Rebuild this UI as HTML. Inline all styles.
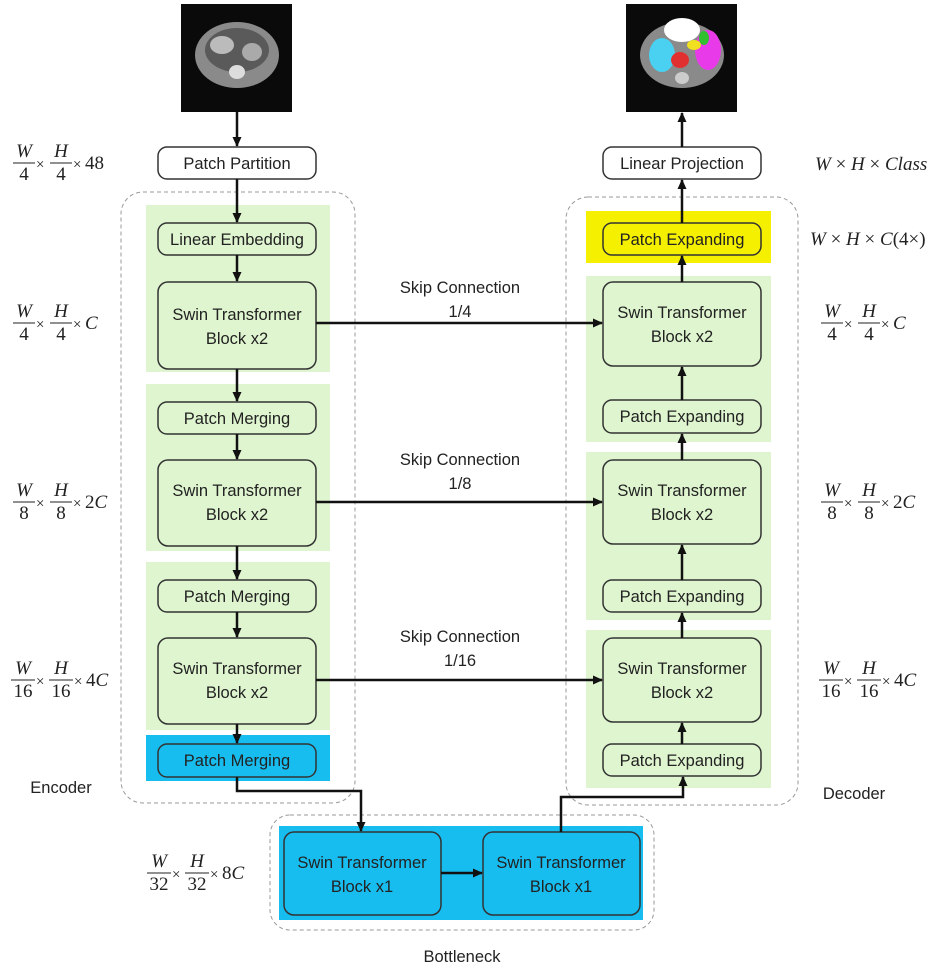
<!DOCTYPE html>
<html><head><meta charset="utf-8"><style>
body{margin:0;background:#fff}
svg{display:block}
.b{font-family:"Liberation Sans",sans-serif;font-size:16.5px;fill:#222;text-anchor:middle}
.m{font-family:"Liberation Serif",serif;font-size:19px;fill:#222}
.i{font-style:italic}
</style></head><body>
<svg width="933" height="966" viewBox="0 0 933 966" xmlns="http://www.w3.org/2000/svg">
<defs>
<marker id="a" markerWidth="10" markerHeight="10" refX="9" refY="5" orient="auto" markerUnits="userSpaceOnUse"><path d="M0,0.5 L10,5 L0,9.5 z" fill="#111"/></marker>
</defs>

<!-- CT images -->
<rect x="181" y="4" width="111" height="108" fill="#0a0a0a"/>
<ellipse cx="237" cy="55" rx="42" ry="33" fill="#8a8a8a"/>
<ellipse cx="237" cy="50" rx="32" ry="22" fill="#5a5a5a"/>
<ellipse cx="222" cy="45" rx="12" ry="9" fill="#bbb"/>
<ellipse cx="252" cy="52" rx="10" ry="9" fill="#aaa"/>
<ellipse cx="237" cy="72" rx="8" ry="7" fill="#ddd"/>
<rect x="626" y="4" width="111" height="108" fill="#0a0a0a"/>
<ellipse cx="682" cy="55" rx="42" ry="33" fill="#8a8a8a"/>
<ellipse cx="682" cy="30" rx="18" ry="12" fill="#fff"/>
<ellipse cx="662" cy="55" rx="13" ry="17" fill="#4ad0f0"/>
<ellipse cx="708" cy="50" rx="13" ry="20" fill="#e83ae8"/>
<ellipse cx="680" cy="60" rx="9" ry="8" fill="#e03030"/>
<ellipse cx="694" cy="45" rx="7" ry="5" fill="#f0e020"/>
<ellipse cx="704" cy="38" rx="5" ry="7" fill="#30c030"/>
<ellipse cx="682" cy="78" rx="7" ry="6" fill="#ccc"/>

<!-- dashed containers -->
<rect x="121" y="192" width="234" height="611" rx="22" fill="none" stroke="#999" stroke-dasharray="4,3"/>
<rect x="566" y="197" width="232" height="608" rx="22" fill="none" stroke="#999" stroke-dasharray="4,3"/>
<rect x="270" y="815" width="384" height="115" rx="20" fill="none" stroke="#999" stroke-dasharray="4,3"/>

<!-- panels -->
<g fill="#dff5cf">
<rect x="146" y="205" width="184" height="167"/>
<rect x="146" y="384" width="184" height="167"/>
<rect x="146" y="562" width="184" height="168"/>
<rect x="586" y="276" width="185" height="166"/>
<rect x="586" y="452" width="185" height="168"/>
<rect x="586" y="630" width="185" height="158"/>
</g>
<rect x="146" y="735" width="184" height="46" fill="#18bdf0"/>
<rect x="586" y="211" width="185" height="52" fill="#f5f000"/>
<rect x="279" y="826" width="364" height="94" fill="#18bdf0"/>

<!-- boxes -->
<g stroke="#333" stroke-width="1.5">
<rect x="158" y="147" width="158" height="32" rx="9" fill="#fff"/>
<rect x="603" y="147" width="158" height="32" rx="9" fill="#fff"/>
<g fill="#dff5cf">
<rect x="158" y="223" width="158" height="32" rx="9"/>
<rect x="158" y="282" width="158" height="87" rx="10"/>
<rect x="158" y="402" width="158" height="32" rx="9"/>
<rect x="158" y="460" width="158" height="86" rx="10"/>
<rect x="158" y="580" width="158" height="32" rx="9"/>
<rect x="158" y="638" width="158" height="86" rx="10"/>
<rect x="603" y="282" width="158" height="84" rx="10"/>
<rect x="603" y="400" width="158" height="33" rx="9"/>
<rect x="603" y="460" width="158" height="84" rx="10"/>
<rect x="603" y="580" width="158" height="32" rx="9"/>
<rect x="603" y="638" width="158" height="84" rx="10"/>
<rect x="603" y="744" width="158" height="32" rx="9"/>
</g>
<rect x="603" y="223" width="158" height="32" rx="9" fill="#f5f000"/>
<rect x="158" y="744" width="158" height="33" rx="9" fill="#18bdf0"/>
<rect x="284" y="832" width="157" height="83" rx="10" fill="#18bdf0"/>
<rect x="483" y="832" width="157" height="83" rx="10" fill="#18bdf0"/>
</g>

<!-- labels -->
<g class="b">
<text x="237" y="169">Patch Partition</text>
<text x="682" y="169">Linear Projection</text>
<text x="237" y="245">Linear Embedding</text>
<text x="237" y="320">Swin Transformer</text><text x="237" y="344">Block x2</text>
<text x="237" y="424">Patch Merging</text>
<text x="237" y="496">Swin Transformer</text><text x="237" y="520">Block x2</text>
<text x="237" y="602">Patch Merging</text>
<text x="237" y="674">Swin Transformer</text><text x="237" y="698">Block x2</text>
<text x="237" y="766">Patch Merging</text>
<text x="682" y="245">Patch Expanding</text>
<text x="682" y="318">Swin Transformer</text><text x="682" y="342">Block x2</text>
<text x="682" y="422">Patch Expanding</text>
<text x="682" y="496">Swin Transformer</text><text x="682" y="520">Block x2</text>
<text x="682" y="602">Patch Expanding</text>
<text x="682" y="674">Swin Transformer</text><text x="682" y="698">Block x2</text>
<text x="682" y="766">Patch Expanding</text>
<text x="362" y="868">Swin Transformer</text><text x="362" y="892">Block x1</text>
<text x="561" y="868">Swin Transformer</text><text x="561" y="892">Block x1</text>
<text x="460" y="293">Skip Connection</text><text x="460" y="317">1/4</text>
<text x="460" y="465">Skip Connection</text><text x="460" y="489">1/8</text>
<text x="460" y="642">Skip Connection</text><text x="460" y="666">1/16</text>
<text x="61" y="793">Encoder</text>
<text x="854" y="799">Decoder</text>
<text x="462" y="962">Bottleneck</text>
</g>

<!-- arrows -->
<g stroke="#111" stroke-width="2.5" fill="none" marker-end="url(#a)">
<line x1="237" y1="112" x2="237" y2="146"/>
<line x1="237" y1="179" x2="237" y2="222"/>
<line x1="237" y1="255" x2="237" y2="281"/>
<line x1="237" y1="369" x2="237" y2="401"/>
<line x1="237" y1="434" x2="237" y2="459"/>
<line x1="237" y1="546" x2="237" y2="579"/>
<line x1="237" y1="612" x2="237" y2="637"/>
<line x1="237" y1="724" x2="237" y2="743"/>
<line x1="682" y1="147" x2="682" y2="113"/>
<line x1="682" y1="223" x2="682" y2="180"/>
<line x1="682" y1="282" x2="682" y2="256"/>
<line x1="682" y1="400" x2="682" y2="367"/>
<line x1="682" y1="460" x2="682" y2="434"/>
<line x1="682" y1="580" x2="682" y2="545"/>
<line x1="682" y1="638" x2="682" y2="613"/>
<line x1="682" y1="744" x2="682" y2="723"/>
<line x1="316" y1="323" x2="602" y2="323"/>
<line x1="316" y1="502" x2="602" y2="502"/>
<line x1="316" y1="680" x2="602" y2="680"/>
<polyline points="237,777 237,791 361,791 361,831"/>
<polyline points="561,832 561,797 683,797 683,777"/>
<line x1="441" y1="873" x2="482" y2="873"/>
</g>

<!-- formulas -->
<g class="m">
<g transform="translate(13,163)">
<text x="11" y="-6" class="i" text-anchor="middle">W</text><line x1="0" y1="0" x2="22" y2="0" stroke="#222"/><text x="11" y="17" text-anchor="middle">4</text>
<text x="23" y="6" font-size="15">×</text>
<text x="48" y="-6" class="i" text-anchor="middle">H</text><line x1="37" y1="0" x2="59" y2="0" stroke="#222"/><text x="48" y="17" text-anchor="middle">4</text>
<text x="60" y="6" font-size="15">×</text><text x="72" y="6">48</text>
</g>
<g transform="translate(13,323)">
<text x="11" y="-6" class="i" text-anchor="middle">W</text><line x1="0" y1="0" x2="22" y2="0" stroke="#222"/><text x="11" y="17" text-anchor="middle">4</text>
<text x="23" y="6" font-size="15">×</text>
<text x="48" y="-6" class="i" text-anchor="middle">H</text><line x1="37" y1="0" x2="59" y2="0" stroke="#222"/><text x="48" y="17" text-anchor="middle">4</text>
<text x="60" y="6" font-size="15">×</text><text x="72" y="6" class="i">C</text>
</g>
<g transform="translate(13,502)">
<text x="11" y="-6" class="i" text-anchor="middle">W</text><line x1="0" y1="0" x2="22" y2="0" stroke="#222"/><text x="11" y="17" text-anchor="middle">8</text>
<text x="23" y="6" font-size="15">×</text>
<text x="48" y="-6" class="i" text-anchor="middle">H</text><line x1="37" y1="0" x2="59" y2="0" stroke="#222"/><text x="48" y="17" text-anchor="middle">8</text>
<text x="60" y="6" font-size="15">×</text><text x="72" y="6">2<tspan class="i">C</tspan></text>
</g>
<g transform="translate(11,680)">
<text x="12" y="-6" class="i" text-anchor="middle">W</text><line x1="0" y1="0" x2="24" y2="0" stroke="#222"/><text x="12" y="17" text-anchor="middle">16</text>
<text x="25" y="6" font-size="15">×</text>
<text x="50" y="-6" class="i" text-anchor="middle">H</text><line x1="38" y1="0" x2="62" y2="0" stroke="#222"/><text x="50" y="17" text-anchor="middle">16</text>
<text x="63" y="6" font-size="15">×</text><text x="75" y="6">4<tspan class="i">C</tspan></text>
</g>
<g transform="translate(147,873)">
<text x="12" y="-6" class="i" text-anchor="middle">W</text><line x1="0" y1="0" x2="24" y2="0" stroke="#222"/><text x="12" y="17" text-anchor="middle">32</text>
<text x="25" y="6" font-size="15">×</text>
<text x="50" y="-6" class="i" text-anchor="middle">H</text><line x1="38" y1="0" x2="62" y2="0" stroke="#222"/><text x="50" y="17" text-anchor="middle">32</text>
<text x="63" y="6" font-size="15">×</text><text x="75" y="6">8<tspan class="i">C</tspan></text>
</g>
<text x="815" y="170"><tspan class="i">W</tspan> × <tspan class="i">H</tspan> × <tspan class="i">Class</tspan></text>
<text x="810" y="245"><tspan class="i">W</tspan> × <tspan class="i">H</tspan> × <tspan class="i">C</tspan>(4×)</text>
<g transform="translate(821,323)">
<text x="11" y="-6" class="i" text-anchor="middle">W</text><line x1="0" y1="0" x2="22" y2="0" stroke="#222"/><text x="11" y="17" text-anchor="middle">4</text>
<text x="23" y="6" font-size="15">×</text>
<text x="48" y="-6" class="i" text-anchor="middle">H</text><line x1="37" y1="0" x2="59" y2="0" stroke="#222"/><text x="48" y="17" text-anchor="middle">4</text>
<text x="60" y="6" font-size="15">×</text><text x="72" y="6" class="i">C</text>
</g>
<g transform="translate(821,502)">
<text x="11" y="-6" class="i" text-anchor="middle">W</text><line x1="0" y1="0" x2="22" y2="0" stroke="#222"/><text x="11" y="17" text-anchor="middle">8</text>
<text x="23" y="6" font-size="15">×</text>
<text x="48" y="-6" class="i" text-anchor="middle">H</text><line x1="37" y1="0" x2="59" y2="0" stroke="#222"/><text x="48" y="17" text-anchor="middle">8</text>
<text x="60" y="6" font-size="15">×</text><text x="72" y="6">2<tspan class="i">C</tspan></text>
</g>
<g transform="translate(819,680)">
<text x="12" y="-6" class="i" text-anchor="middle">W</text><line x1="0" y1="0" x2="24" y2="0" stroke="#222"/><text x="12" y="17" text-anchor="middle">16</text>
<text x="25" y="6" font-size="15">×</text>
<text x="50" y="-6" class="i" text-anchor="middle">H</text><line x1="38" y1="0" x2="62" y2="0" stroke="#222"/><text x="50" y="17" text-anchor="middle">16</text>
<text x="63" y="6" font-size="15">×</text><text x="75" y="6">4<tspan class="i">C</tspan></text>
</g>
</g>
</svg>
</body></html>
